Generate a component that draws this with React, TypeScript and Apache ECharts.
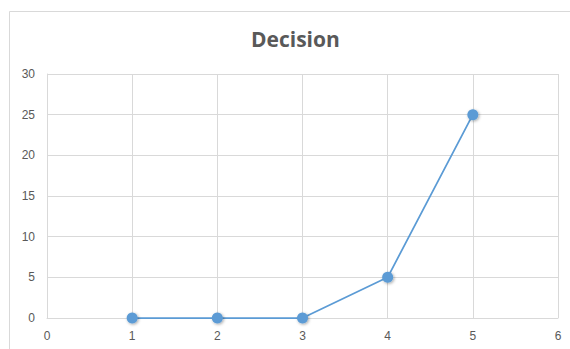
import React, { useEffect, useRef } from "react";
import * as echarts from "echarts";

const title = "Decision";
const xValues = [1, 2, 3, 4, 5];
const yValues = [0, 0, 0, 5, 25];

export default function App() {
  const ref = useRef<HTMLDivElement>(null);
  useEffect(() => {
    if (!ref.current) return;
    const chart = echarts.init(ref.current, null, { renderer: "svg" });
    const font = "'Liberation Sans', Arial, sans-serif";
    chart.setOption({
      animation: false,
      backgroundColor: "#ffffff",
      title: {
        text: title,
        left: 246,
        top: 23,
        textStyle: { fontFamily: "'Open Sans', sans-serif", fontSize: 21, fontWeight: "bold", color: "#595959" },
      },
      graphic: [
        {
          type: "rect",
          shape: { x: 9.5, y: 11.5, width: 580, height: 360 },
          style: { fill: "none", stroke: "#D9D9D9", lineWidth: 1 },
          silent: true,
        },
      ],
      grid: { left: 47, right: 12, top: 74, bottom: 31 },
      xAxis: {
        type: "value",
        min: 0,
        max: 6,
        interval: 1,
        axisLine: { show: true, onZero: false, lineStyle: { color: "#D9D9D9" } },
        axisTick: { show: false },
        splitLine: { show: true, lineStyle: { color: "#D9D9D9", width: 1 } },
        axisLabel: { color: "#595959", fontSize: 12, fontFamily: font, margin: 12 },
      },
      yAxis: {
        type: "value",
        min: 0,
        max: 30,
        interval: 5,
        axisLine: { show: true, lineStyle: { color: "#D9D9D9" } },
        axisTick: { show: false },
        splitLine: { show: true, lineStyle: { color: "#D9D9D9", width: 1 } },
        axisLabel: { color: "#595959", fontSize: 12, fontFamily: font, margin: 12 },
      },
      series: [
        {
          type: "line",
          data: xValues.map((x, i) => [x, yValues[i]]),
          symbol: "circle",
          symbolSize: 11,
          lineStyle: { color: "#5B9BD5", width: 1.75 },
          itemStyle: {
            color: "#5B9BD5",
            shadowColor: "rgba(0,0,0,0.35)",
            shadowBlur: 3,
            shadowOffsetX: 1,
            shadowOffsetY: 1,
          },
          z: 3,
        },
      ],
    });
    return () => chart.dispose();
  }, []);
  return (
    <div
      ref={ref}
      style={{ position: "fixed", left: 0, top: 0, width: 570, height: 349 }}
    />
  );
}
